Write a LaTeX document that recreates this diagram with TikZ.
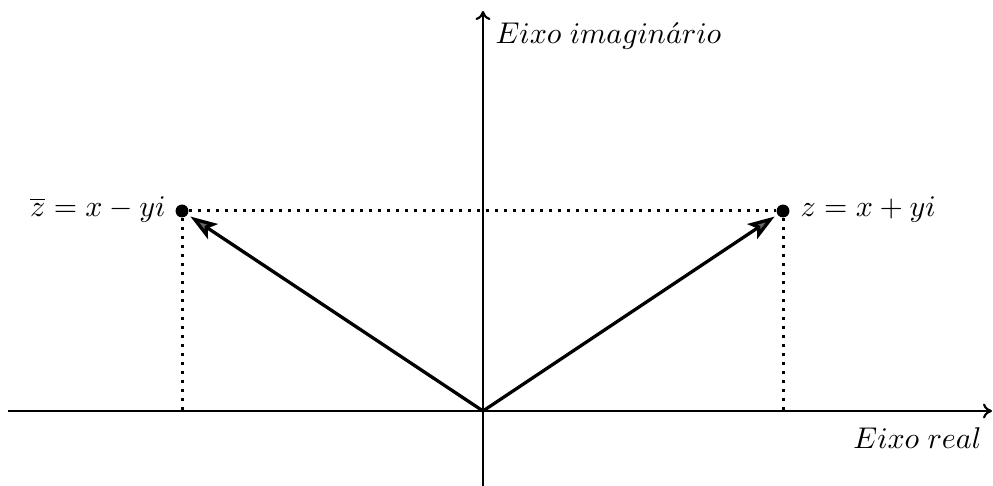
\documentclass[tikz,border=0pt]{standalone}
\usetikzlibrary{arrows.meta}
\begin{document}
\begin{tikzpicture}[x=0.33333pt,y=-0.33333pt,
  axis/.style={line width=0.7pt,-{To[length=3pt,width=5pt]}},
  vec/.style={line width=1.1pt,-{Stealth[length=9pt,width=6pt,inset=2pt,fill=black!60]}},
  guide/.style={line width=1pt,dash pattern=on 1pt off 2pt},
  dot/.style={circle,fill=black,inner sep=0pt,minimum size=4.3pt},
  lbl/.style={inner sep=0pt,font=\fontsize{10}{12}\selectfont}]
\useasboundingbox (0,0) rectangle (993,486);
\coordinate (O) at (483,411);
\coordinate (xl) at (8,411);
\coordinate (xr) at (992,411);
\coordinate (yb) at (483,486);
\coordinate (yt) at (483,11);
\coordinate (fz) at (783,411);
\coordinate (fzb) at (182,411);
\draw[axis] (xl) -- (xr);
\draw[axis] (yb) -- (yt);
\node[dot] (Z) at (783,211) {};
\node[dot] (Zb) at (182,211) {};
\draw[guide] (Zb) -- (Z);
\draw[guide] (Z) -- (fz);
\draw[guide] (Zb) -- (fzb);
\draw[vec,shorten >=1pt] (O) -- (Z);
\draw[vec,shorten >=1pt] (O) -- (Zb);
\node[lbl,anchor=west] (lz) at (800,210) {$z = x + yi$};
\node[lbl,anchor=east] (lzb) at (166,210) {$\overline{z} = x - yi$};
\node[lbl,anchor=west] (ly) at (495,36) {$Eixo\;imagin\acute{a}rio$};
\node[lbl,anchor=east] (lx) at (982,438) {$Eixo\;real$};
\end{tikzpicture}
\end{document}
